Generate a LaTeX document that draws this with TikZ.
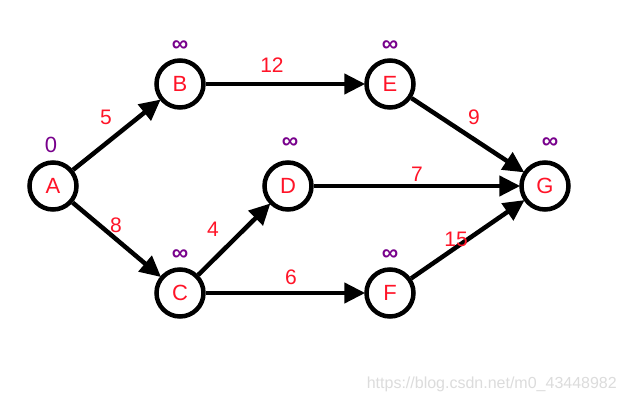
\documentclass[tikz,border=0pt]{standalone}
\usepackage{fontspec}
\setmainfont{Liberation Sans}
\usetikzlibrary{arrows.meta}
\definecolor{lblred}{RGB}{255,20,40}
\definecolor{distpurple}{RGB}{120,0,140}
\definecolor{wmgray}{RGB}{220,220,220}
\begin{document}
\begin{tikzpicture}[x=1pt,y=-1pt,
  vert/.style={circle,draw=black,line width=4.5pt,fill=white,minimum size=47pt,inner sep=0pt,text=lblred,font=\fontsize{22}{22}\selectfont},
  edge/.style={line width=4.5pt,-{Triangle[length=21pt,width=20pt]},shorten >=-1pt},
  wt/.style={text=lblred,font=\fontsize{21}{21}\selectfont,inner sep=0pt},
  dist/.style={text=distpurple,font=\fontsize{23}{23}\selectfont\bfseries,inner sep=0pt}]
\useasboundingbox (0,0) rectangle (627,403);
\fill[white] (0,0) rectangle (627,403);
\node[vert] (A) at (53,186) {A};
\node[vert] (B) at (180,84) {B};
\node[vert] (C) at (180,293) {C};
\node[vert] (D) at (288,186) {D};
\node[vert] (E) at (390,84) {E};
\node[vert] (F) at (390,293) {F};
\node[vert] (G) at (545,186) {G};
\draw[edge] (A) -- (B);
\draw[edge] (A) -- (C);
\draw[edge] (B) -- (E);
\draw[edge] (C) -- (D);
\draw[edge] (C) -- (F);
\draw[edge] (D) -- (G);
\draw[edge] (E) -- (G);
\draw[edge] (F) -- (G);
\node[wt] (w5) at (106,117) {5};
\node[wt] (w8) at (116,225) {8};
\node[wt] (w12) at (272,65) {12};
\node[wt] (w4) at (213,229) {4};
\node[wt] (w6) at (291,277) {6};
\node[wt] (w7) at (417,174) {7};
\node[wt] (w9) at (474,117) {9};
\node[wt] (w15) at (456,239) {15};
\node[dist,font=\fontsize{22}{22}\selectfont] (dA) at (51,145) {0};
\node[dist] (dB) at (180,46) {∞};
\node[dist] (dE) at (390,46) {∞};
\node[dist] (dD) at (290,143) {∞};
\node[dist] (dG) at (550,143) {∞};
\node[dist] (dC) at (180,255) {∞};
\node[dist] (dF) at (390,255) {∞};
\node[text=wmgray,font=\fontsize{16}{16}\selectfont,anchor=east,inner sep=0pt] (wm) at (617,384) {https://blog.csdn.net/m0\_43448982};
\end{tikzpicture}
\end{document}
